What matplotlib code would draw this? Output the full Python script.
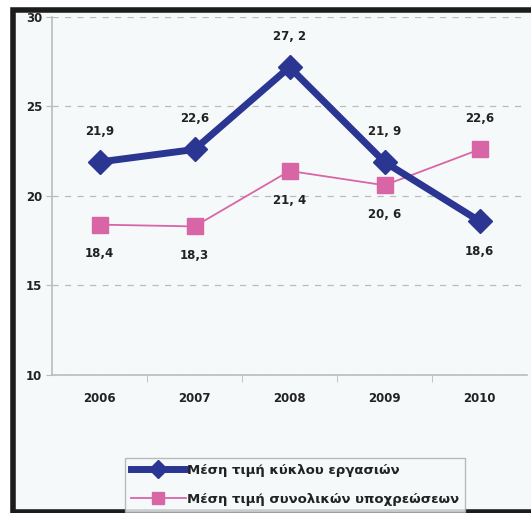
import numpy as np
import matplotlib.pyplot as plt
from matplotlib.patches import Rectangle

# δεδομένα
years = ['2006', '2007', '2008', '2009', '2010']
kyklos = [21.9, 22.6, 27.2, 21.9, 18.6]
ypoxreoseis = [18.4, 18.3, 21.4, 20.6, 22.6]
kyklos_labels = ['21,9', '22,6', '27, 2', '21, 9', '18,6']
ypox_labels = ['18,4', '18,3', '21, 4', '20, 6', '22,6']
yticks = [10, 15, 20, 25, 30]
legend_names = ['Μέση τιμή κύκλου εργασιών', 'Μέση τιμή συνολικών υποχρεώσεων']

bg = '#f6f9fa'
blue = '#2b3592'
pink = '#d866a6'

fig = plt.figure(figsize=(5.31, 5.13), dpi=100, facecolor='white')

# φόντο και μαύρο πλαίσιο
fig.patches.append(Rectangle((12.5 / 531, 1.5 / 513), 1.2, (513 - 11) / 513,
                             transform=fig.transFigure, facecolor=bg,
                             edgecolor='#1c1c1c', linewidth=4, zorder=-10))

ax = fig.add_axes([52 / 531, 138 / 513, 475 / 531, 358 / 513])
ax.set_facecolor(bg)
x = np.arange(len(years))

l1, = ax.plot(x, kyklos, color=blue, linewidth=5, marker='D', markersize=12,
              zorder=4, label=legend_names[0])
l2, = ax.plot(x, ypoxreoseis, color=pink, linewidth=1.3, marker='s', markersize=12,
              zorder=3, label=legend_names[1])

ax.set_xlim(-0.5, 4.5)
ax.set_ylim(10, 30)
ax.set_yticks(yticks)
ax.set_xticks(x)
ax.set_xticklabels(years)
ax.set_xticks(np.arange(0.5, 4, 1), minor=True)
ax.tick_params(axis='x', which='major', length=0, pad=12, labelsize=8.5)
ax.tick_params(axis='x', which='minor', length=5, color='#bbbbbb', direction='out')
ax.tick_params(axis='y', length=4, color='#bbbbbb', pad=3, labelsize=8.5)
for lab in ax.get_xticklabels() + ax.get_yticklabels():
    lab.set_fontweight('bold')
    lab.set_color('#222222')

ax.grid(axis='y', linestyle=(0, (5, 5)), color='#bbbbbb', linewidth=0.9)
ax.set_axisbelow(True)
for s in ['top', 'right']:
    ax.spines[s].set_visible(False)
for s in ['left', 'bottom']:
    ax.spines[s].set_color('#bbbbbb')
    ax.spines[s].set_linewidth(1.2)

# ετικέτες τιμών
for i in range(len(years)):
    up = kyklos[i] >= ypoxreoseis[i]
    ax.annotate(kyklos_labels[i], (x[i], kyklos[i]), xytext=(0, 22 if up else -22),
                textcoords='offset points', ha='center', va='center',
                fontsize=8.5, fontweight='bold', color='#222222')
    ax.annotate(ypox_labels[i], (x[i], ypoxreoseis[i]), xytext=(0, -21 if up else 22),
                textcoords='offset points', ha='center', va='center',
                fontsize=8.5, fontweight='bold', color='#222222')

leg = fig.legend(handles=[l1, l2], loc='upper left', bbox_to_anchor=(118 / 531, 62 / 513),
                 frameon=True, fancybox=False, edgecolor='#aaaaaa', facecolor=bg,
                 handlelength=4.2, handletextpad=0.1, borderpad=0.45, labelspacing=1.25,
                 markerscale=0.75, prop={'weight': 'bold', 'size': 9.5})
leg.get_frame().set_linewidth(1.0)
for t in leg.get_texts():
    t.set_color('#222222')

fig.savefig('out.png', dpi=100)
